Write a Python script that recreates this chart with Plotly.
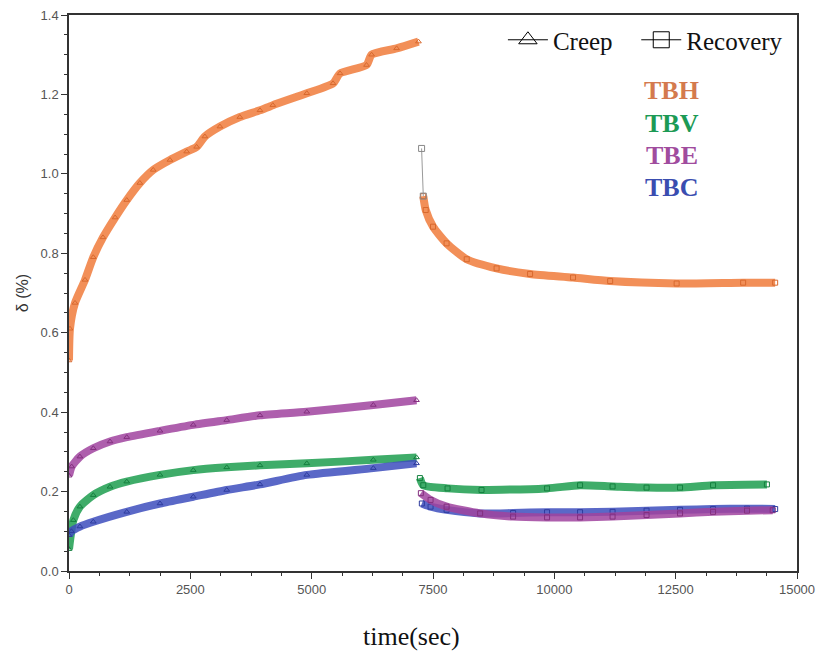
import plotly.graph_objects as go

# Creep stage (0 - ~7200 s), strain in %
tbh_creep_t = [0, 20, 124, 330, 500, 700, 950, 1190, 1460, 1735, 2080, 2425, 2630, 2800,
               3110, 3520, 3935, 4200, 4900, 5440, 5585, 6130, 6235, 6750, 7200]
tbh_creep_v = [0.53, 0.61, 0.675, 0.733, 0.79, 0.84, 0.89, 0.934, 0.977, 1.01, 1.035, 1.056,
               1.068, 1.094, 1.119, 1.143, 1.16, 1.173, 1.203, 1.228, 1.253, 1.274, 1.30,
               1.316, 1.333]

tbv_creep_t = [0, 90, 225, 500, 845, 1190, 1875, 2560, 3250, 3935, 4900, 6270, 7160]
tbv_creep_v = [0.055, 0.128, 0.162, 0.191, 0.212, 0.225, 0.242, 0.254, 0.261, 0.266, 0.271,
               0.28, 0.286]

tbe_creep_t = [0, 55, 225, 500, 845, 1190, 1875, 2560, 3250, 3935, 4900, 6270, 7160]
tbe_creep_v = [0.24, 0.263, 0.288, 0.309, 0.326, 0.337, 0.353, 0.368, 0.38, 0.392, 0.401,
               0.418, 0.43]

tbc_creep_t = [0, 50, 225, 500, 1190, 1875, 2560, 3250, 3935, 4900, 6270, 7160]
tbc_creep_v = [0.09, 0.1, 0.112, 0.124, 0.149, 0.17, 0.187, 0.204, 0.218, 0.242, 0.259, 0.271]

# Recovery stage (~7200 - 14500 s)
tbh_rec_t = [7265, 7300, 7350, 7500, 7780, 8195, 8810, 9500, 10385, 11150, 12520, 13890, 14550]
tbh_rec_v = [1.064, 0.944, 0.909, 0.867, 0.825, 0.785, 0.762, 0.748, 0.739, 0.73, 0.724,
             0.726, 0.726]

tbv_rec_t = [7230, 7300, 7800, 8500, 9850, 10530, 11200, 11900, 12590, 13270, 14380]
tbv_rec_v = [0.234, 0.216, 0.208, 0.204, 0.208, 0.216, 0.213, 0.21, 0.21, 0.216, 0.218]

tbe_rec_t = [7250, 7450, 7780, 8470, 9150, 9850, 10530, 11200, 11900, 12590, 13270, 13970, 14500]
tbe_rec_v = [0.196, 0.179, 0.162, 0.145, 0.137, 0.135, 0.135, 0.137, 0.141, 0.145, 0.149,
             0.152, 0.153]

tbc_rec_t = [7270, 7450, 7780, 8470, 9150, 9850, 10530, 11200, 11900, 12590, 13270, 13970, 14550]
tbc_rec_v = [0.17, 0.162, 0.154, 0.145, 0.146, 0.148, 0.148, 0.149, 0.152, 0.154, 0.156,
             0.157, 0.156]

x_ticks = [0, 2500, 5000, 7500, 10000, 12500, 15000]
x_tick_text = ["0", "2500", "5000", "7500", "10000", "12500", "15000"]

colors = {"TBH": "#F07C3C", "TBV": "#1E9E50", "TBE": "#A0449F", "TBC": "#3E4EBE"}
edge_colors = {"TBH": "#D8692E", "TBV": "#15803F", "TBE": "#84307F", "TBC": "#2E3C9E"}
label_colors = {"TBH": "#D47A4E", "TBV": "#1C9A55", "TBE": "#A04C9E", "TBC": "#3A4DB0"}

series = [
    ("TBH", tbh_creep_t, tbh_creep_v, tbh_rec_t[1:], tbh_rec_v[1:]),
    ("TBV", tbv_creep_t, tbv_creep_v, tbv_rec_t, tbv_rec_v),
    ("TBC", tbc_creep_t, tbc_creep_v, tbc_rec_t, tbc_rec_v),
    ("TBE", tbe_creep_t, tbe_creep_v, tbe_rec_t, tbe_rec_v),
]

serif = "Liberation Serif, Times New Roman, serif"
sans = "Liberation Sans, Arial, sans-serif"

fig = go.Figure()

for name, ct, cv, rt, rv in series:
    c = colors[name]
    e = edge_colors[name]
    # thick band of overlapping symbols
    for t, v in ((ct, cv), (rt, rv)):
        fig.add_trace(go.Scatter(x=t, y=v, mode="lines",
                                 line=dict(color=c, width=8, shape="spline", smoothing=0.6),
                                 opacity=0.85, showlegend=False, hoverinfo="skip"))
    fig.add_trace(go.Scatter(x=ct, y=cv, mode="markers", showlegend=False,
                             marker=dict(symbol="triangle-up-open", size=5, color=e,
                                         line=dict(width=1, color=e))))
    fig.add_trace(go.Scatter(x=rt, y=rv, mode="markers", showlegend=False,
                             marker=dict(symbol="square-open", size=5, color=e,
                                         line=dict(width=1, color=e))))

# first recovery points of TBH joined by a grey line
fig.add_trace(go.Scatter(x=tbh_rec_t[:2], y=tbh_rec_v[:2], mode="lines+markers",
                         line=dict(color="#9a9a9a", width=1),
                         marker=dict(symbol="square-open", size=6, color="#888888"),
                         showlegend=False))

# legend entries, one legend box each
fig.add_trace(go.Scatter(x=[None], y=[None], mode="lines+markers", name="Creep",
                         legend="legend",
                         line=dict(color="black", width=1),
                         marker=dict(symbol="triangle-up-open", size=17, color="black")))
fig.add_trace(go.Scatter(x=[None], y=[None], mode="lines+markers", name="Recovery",
                         legend="legend2",
                         line=dict(color="black", width=1),
                         marker=dict(symbol="square-open", size=17, color="black")))

label_y = [1.21, 1.128, 1.045, 0.965]
for name, y in zip(["TBH", "TBV", "TBE", "TBC"], label_y):
    fig.add_annotation(x=12420, y=y, text=f"<b>{name}</b>", showarrow=False,
                       font=dict(family=serif, size=26, color=label_colors[name]))

# x-axis title, set slightly left of the plot centre
fig.add_annotation(xref="paper", yref="paper", x=0.471, y=-0.117, yanchor="middle",
                   text="time(sec)", showarrow=False,
                   font=dict(family=serif, size=26, color="#111111"))

axis_common = dict(showline=True, linecolor="#333333", linewidth=1.5, mirror=True,
                   ticks="outside", tickcolor="#333333", tickwidth=1.3, ticklen=6,
                   showgrid=False, zeroline=False, automargin=False,
                   tickfont=dict(family=sans, size=13, color="#555555"))

fig.update_xaxes(range=[0, 15000], tickvals=x_ticks, ticktext=x_tick_text,
                 minor=dict(dtick=625, ticks="outside", ticklen=3, tickcolor="#333333",
                            tickwidth=1.2),
                 **axis_common)
fig.update_yaxes(range=[0, 1.4], dtick=0.2, tickformat=".1f",
                 minor=dict(dtick=0.05, ticks="outside", ticklen=3, tickcolor="#333333",
                            tickwidth=1.2),
                 title=dict(text="δ (%)", standoff=8,
                            font=dict(family=sans, size=16, color="#333333")),
                 **axis_common)

legend_style = dict(orientation="h", y=0.955, yanchor="middle", xanchor="right",
                    bgcolor="rgba(0,0,0,0)", itemwidth=40,
                    font=dict(family=serif, size=25, color="#111111"))

fig.update_layout(
    width=819, height=651,
    margin=dict(l=69, r=22, t=15, b=80),
    paper_bgcolor="white", plot_bgcolor="white",
    legend=dict(x=0.754, **legend_style),
    legend2=dict(x=0.988, **legend_style),
)

fig.write_html("out.html")
